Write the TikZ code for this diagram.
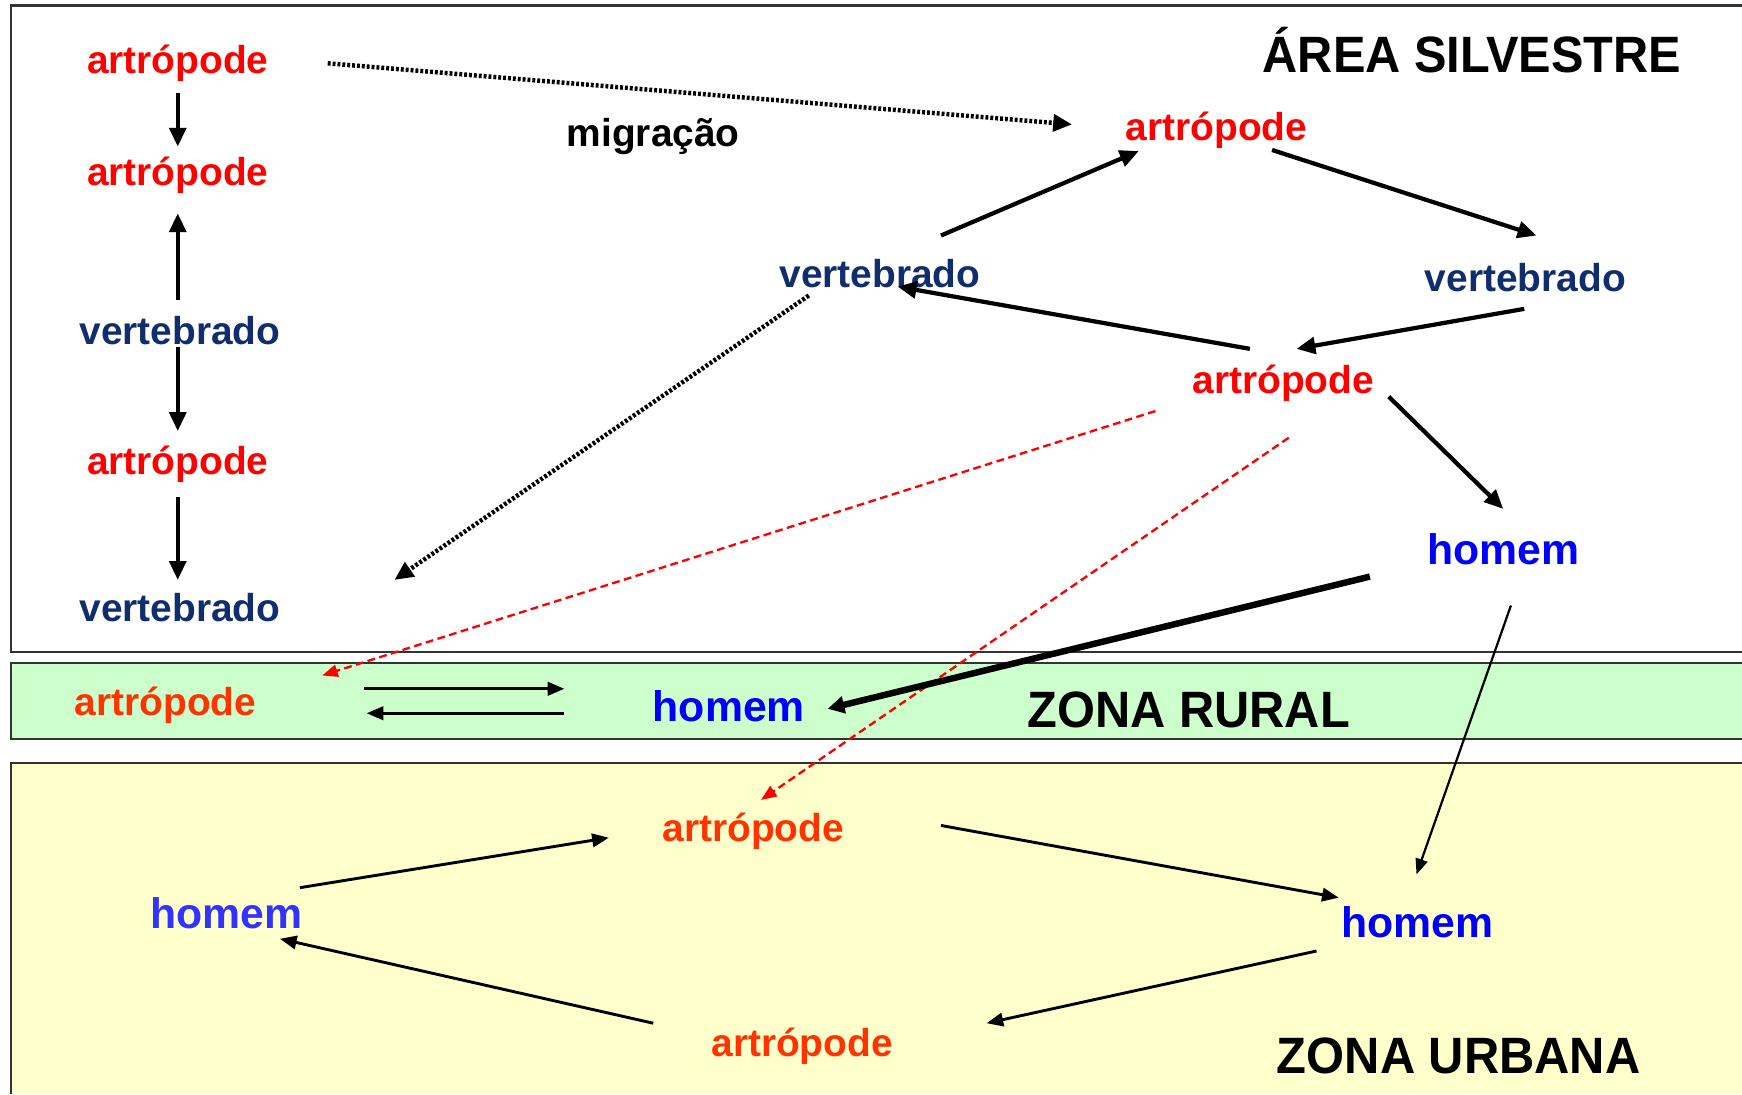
\documentclass[tikz,border=0pt]{standalone}
\usepackage{fontspec}
\usepackage{graphicx}
\setmainfont{Liberation Sans}
\usetikzlibrary{arrows.meta,calc}
\definecolor{artred}{RGB}{255,0,0}
\definecolor{artorange}{RGB}{255,51,0}
\definecolor{vertblue}{RGB}{16,45,110}
\definecolor{homblue}{RGB}{0,0,255}
\definecolor{homblue2}{RGB}{51,51,255}
\definecolor{ruralfill}{RGB}{204,255,204}
\definecolor{urbanfill}{RGB}{255,255,204}
\definecolor{boxline}{RGB}{51,51,51}
\tikzset{
  lbl/.style={inner sep=0pt, font=\fontsize{35}{40}\selectfont\bfseries},
  hom/.style={inner sep=0pt, font=\fontsize{38.5}{44}\selectfont\bfseries},
  ttl/.style={inner sep=0pt, font=\fontsize{46}{52}\selectfont\bfseries},
  zone/.style={draw=boxline, line width=2pt},
  arrthick/.style={line width=3.8pt, -{Triangle[length=17pt,width=15pt]}},
  arrthin/.style={line width=2.6pt, -{Triangle[length=15pt,width=12pt]}},
  arrfine/.style={line width=2pt, -{Triangle[length=14pt,width=11pt]}},
  arrheavy/.style={line width=5.8pt, -{Triangle[length=15pt,width=15pt]}},
  dotarrow/.style={line width=4pt, dash pattern=on 2.6pt off 1.8pt, -{Triangle[length=17pt,width=15pt]}},
  redarrow/.style={draw=artred, line width=2.1pt, dash pattern=on 7pt off 4pt, -{Triangle[length=14pt,width=11pt]}}
}
\begin{document}
\begin{tikzpicture}[x=1pt,y=-1pt]
\useasboundingbox (0,0) rectangle (1568,985);
\fill[white] (0,0) rectangle (1568,985);
% zones
\draw[zone] (1568,5) -- (10,5) -- (10,587) -- (1568,587);
\fill[ruralfill] (10,597) rectangle (1568,665);
\draw[zone] (1568,597) -- (10,597) -- (10,665) -- (1568,665);
\fill[urbanfill] (10,687) rectangle (1568,985);
\draw[zone] (1568,687) -- (10,687) -- (10,985);
% titles
\node[ttl] (t1) at (1325,45) {\scalebox{0.953}[1]{ÁREA SILVESTRE}};
\node[ttl] (t2) at (1070,639) {\scalebox{0.954}[1]{ZONA RURAL}};
\node[ttl] (t3) at (1313,950) {\scalebox{0.956}[1]{ZONA URBANA}};
% silvestre nodes
\node[lbl, text=artred] (a1) at (160,57) {artrópode};
\node[lbl, text=artred] (a2) at (160,158) {artrópode};
\node[lbl, text=vertblue] (v1) at (162,298) {vertebrado};
\node[lbl, text=artred] (a3) at (160,418) {artrópode};
\node[lbl, text=vertblue] (v2) at (162,547) {vertebrado};
\node[lbl] (mig) at (588,123) {migração};
\node[lbl, text=artred] (aT) at (1095,117) {artrópode};
\node[lbl, text=vertblue] (vM) at (792,246) {vertebrado};
\node[lbl, text=vertblue] (vR) at (1373,250) {vertebrado};
\node[lbl, text=artred] (aM) at (1155,345) {artrópode};
\node[hom, text=homblue] (hS) at (1353,494) {homem};
% rural nodes
\node[lbl, text=artorange] (aR) at (149,635) {artrópode};
\node[hom, text=homblue] (hR) at (656,636) {homem};
% urban nodes
\node[lbl, text=artorange] (aU1) at (678,748) {artrópode};
\node[hom, text=homblue2] (hU1) at (204,822) {homem};
\node[hom, text=homblue] (hU2) at (1276,830) {homem};
\node[lbl, text=artorange] (aU2) at (722,942) {artrópode};
% left column
\draw[arrthick] ($(a1)+(0,27)$) -- ($(a2)+(0,-26)$);
\draw[arrthick] ($(v1)+(-2,-28)$) -- ($(a2)+(0,34)$);
\draw[arrthick] ($(v1)+(-2,14)$) -- ($(a3)+(0,-30)$);
\draw[arrthick] ($(a3)+(0,29)$) -- ($(v2)+(-2,-25)$);
% migration
\draw[dotarrow] ($(a1)+(135,0)$) -- ($(aT)+(-130,-5)$);
% silvestre cycle
\draw[arrthick] ($(vM)+(55,-34)$) -- ($(aT)+(-70,19)$);
\draw[arrthick] ($(aT)+(50,18)$) -- ($(vR)+(10,-38)$);
\draw[arrthick] ($(vR)+(-1,28)$) -- ($(aM)+(12,-31)$);
\draw[arrthick] ($(aM)+(-30,-31)$) -- ($(vM)+(16,12)$);
\draw[arrthick] ($(aM)+(95,12)$) -- ($(hS)+(0,-36)$);
\draw[dotarrow] ($(vM)+(-64,20)$) -- ($(v2)+(193,-25)$);
% red dashed
\draw[redarrow] ($(aM)+(-115,25)$) -- ($(aR)+(141,-27)$);
\draw[redarrow] ($(aM)+(5,49)$) -- ($(aU1)+(7,-28)$);
% homem links
\draw[arrheavy] ($(hS)+(-120,25)$) -- ($(hR)+(89,2)$);
\draw[arrfine] ($(hS)+(7,51)$) -- ($(hU2)+(-1,-43)$);
% rural
\draw[arrthin] ($(aR)+(179,-15)$) -- ($(hR)+(-148,-16)$);
\draw[arrthin] ($(hR)+(-148,6)$) -- ($(aR)+(181,7)$);
% urban cycle
\draw[arrthin] ($(hU1)+(66,-23)$) -- ($(aU1)+(-130,6)$);
\draw[arrthin] ($(aU1)+(169,-5)$) -- ($(hU2)+(-71,-22)$);
\draw[arrthin] ($(hU2)+(-91,26)$) -- ($(aU2)+(166,-21)$);
\draw[arrthin] ($(aU2)+(-134,-21)$) -- ($(hU1)+(48,23)$);
\end{tikzpicture}
\end{document}
